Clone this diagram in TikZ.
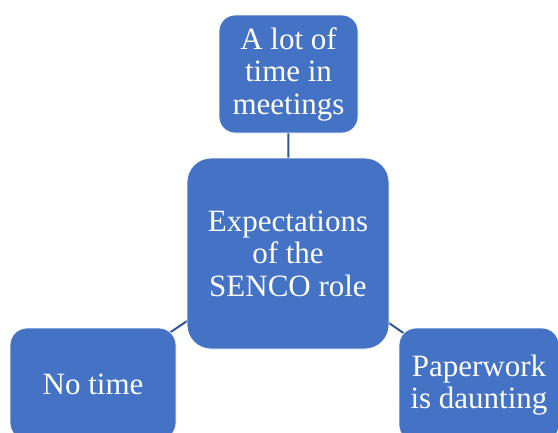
\documentclass[tikz,border=0pt]{standalone}
\usepackage{fontspec}
\setmainfont{Liberation Serif}
\usetikzlibrary{backgrounds}
\definecolor{boxblue}{RGB}{68,114,196}
\definecolor{linkblue}{RGB}{47,85,151}
\begin{document}
\begin{tikzpicture}[x=1pt,y=-1pt,
  topic/.style={rectangle, rounded corners=#1, fill=boxblue, draw=white,
    line width=0.8pt, text=white, align=center, inner sep=0pt,
    font=\fontsize{31}{32.5}\selectfont},
  topic/.default=16pt,
  link/.style={draw=linkblue, line width=2pt}]
\useasboundingbox (0,0) rectangle (558,432);
\clip (0,0) rectangle (558,432);

% central topic and its three satellites
\node[topic=24pt, minimum width=202pt, minimum height=191pt] (senco) at (288,253.5)
  {Expectations\\of the\\SENCO role};
\node[topic=16pt, minimum width=139pt, minimum height=118pt] (meet) at (288.5,74)
  {A lot of\\time in\\meetings};
\node[topic=17pt, minimum width=166pt, minimum height=112pt] (notime) at (93,384)
  {No time};
\node[topic=17pt, minimum width=160pt, minimum height=114pt] (paper) at (479,385)
  {Paperwork\\is daunting};

% connectors run centre to centre, hidden behind the filled boxes
\begin{scope}[on background layer]
  \draw[link] (senco.center) -- (meet.center);
  \draw[link] (senco.center) -- (notime.center);
  \draw[link] (senco.center) -- (paper.center);
\end{scope}
\end{tikzpicture}
\end{document}
